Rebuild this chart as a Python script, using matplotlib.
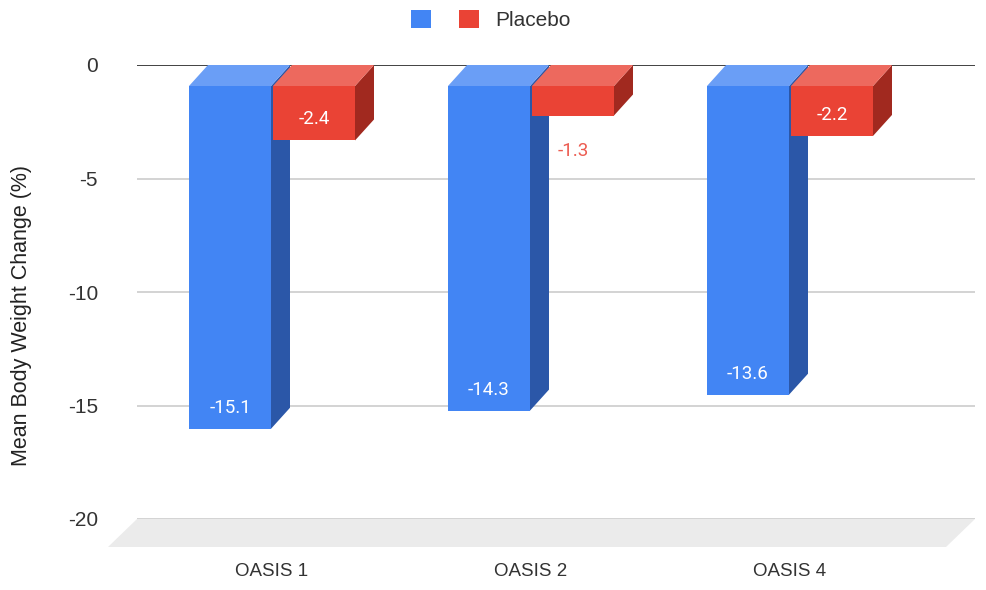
import matplotlib
matplotlib.use("Agg")
import matplotlib.pyplot as plt
from matplotlib.patches import Polygon, Patch

categories = ["OASIS 1", "OASIS 2", "OASIS 4"]
treatment = [-15.1, -14.3, -13.6]
placebo = [-2.4, -1.3, -2.2]
series_names = ["", "Placebo"]
yticks = [0, -5, -10, -15, -20]
ytick_labels = ["0", "-5", "-10", "-15", "-20"]

W, H = 986, 590
fig = plt.figure(figsize=(W / 100, H / 100), dpi=100)
# back-plane axes region (pixels)
L, R, T, B = 137, 975, 65, 519
ax = fig.add_axes([L / W, 1 - B / H, (R - L) / W, (B - T) / H])
spacing_px = 259.0
ax.set_xlim((L - 291) / spacing_px, (R - 291) / spacing_px)
ax.set_ylim(-20, 0)
for s in ax.spines.values():
    s.set_visible(False)

px_x = (R - L) / (ax.get_xlim()[1] - ax.get_xlim()[0])
px_y = (B - T) / 20.0
DX, DY = 19 / px_x, 21 / px_y        # bar depth offset
FDX, FDY = 29 / px_x, 28 / px_y      # floor depth
bw = 82 / px_x
gap = 2 / px_x

colors = {
    0: dict(front="#4285f4", top="#6a9ef6", side="#2b57a8", label="white"),
    1: dict(front="#ea4335", top="#ed695e", side="#a1291f", label="white"),
}
outside_label = "#ec5b50"

# floor
x_lo, x_hi = ax.get_xlim()
floor = Polygon([(x_lo, -20), (x_hi, -20), (x_hi - FDX, -20 - FDY), (x_lo - FDX, -20 - FDY)],
                closed=True, facecolor="#ebebeb", edgecolor="none", clip_on=False, zorder=0)
ax.add_patch(floor)

# gridlines
for v in yticks[1:]:
    ax.axhline(v, color="#cccccc", lw=1.2, zorder=1)
ax.axhline(0, color="#333333", lw=1.3, zorder=1)


def draw_bar(x0, v, c):
    x1 = x0 + bw
    front = Polygon([(x0 - DX, -DY), (x1 - DX, -DY), (x1 - DX, v - DY), (x0 - DX, v - DY)],
                    closed=True, facecolor=c["front"], edgecolor="none", zorder=3, clip_on=False)
    top = Polygon([(x0 - DX, -DY), (x1 - DX, -DY), (x1, 0), (x0, 0)],
                  closed=True, facecolor=c["top"], edgecolor="none", zorder=3, clip_on=False)
    side = Polygon([(x1 - DX, -DY), (x1, 0), (x1, v), (x1 - DX, v - DY)],
                   closed=True, facecolor=c["side"], edgecolor="none", zorder=3, clip_on=False)
    for p in (side, top, front):
        ax.add_patch(p)
    cx = (x0 + x1) / 2 - DX
    bar_px = abs(v) * px_y
    if bar_px >= 40:
        ax.text(cx, v - DY + 21 / px_y, f"{v:.1f}", ha="center", va="center",
                color=c["label"], fontsize=13.5, family="Roboto", zorder=5)
    else:
        ax.text(cx, v - DY - 35 / px_y, f"{v:.1f}", ha="center", va="center",
                color=outside_label, fontsize=13.5, family="Roboto", zorder=5)


for i, (t, p) in enumerate(zip(treatment, placebo)):
    draw_bar(i - bw - gap / 2, t, colors[0])
    draw_bar(i + gap / 2, p, colors[1])

ax.set_yticks(yticks)
ax.set_yticklabels(ytick_labels, family="Liberation Sans", fontsize=15, color="#333333")
ax.set_xticks([i - DX for i in range(len(categories))])
ax.set_xticklabels(categories, family="Liberation Sans", fontsize=13.5, color="#333333")
ax.tick_params(axis="y", length=0, pad=28)
ax.tick_params(axis="x", length=0, pad=32)

fig.text(22 / W, 1 - 315 / H, "Mean Body Weight Change (%)", rotation=90,
         ha="center", va="center", family="Liberation Sans", fontsize=15.5, color="#222222")

handles = [Patch(facecolor=colors[0]["front"]), Patch(facecolor=colors[1]["front"])]
fig.legend(handles, series_names, loc="center", bbox_to_anchor=(491 / W, 1 - 20 / H), ncol=2,
           frameon=False, prop={"family": "Liberation Sans", "size": 15},
           handlelength=0.96, handleheight=0.96, handletextpad=0.77, columnspacing=0.58,
           labelcolor="#333333")

fig.savefig("out.png", dpi=100)
